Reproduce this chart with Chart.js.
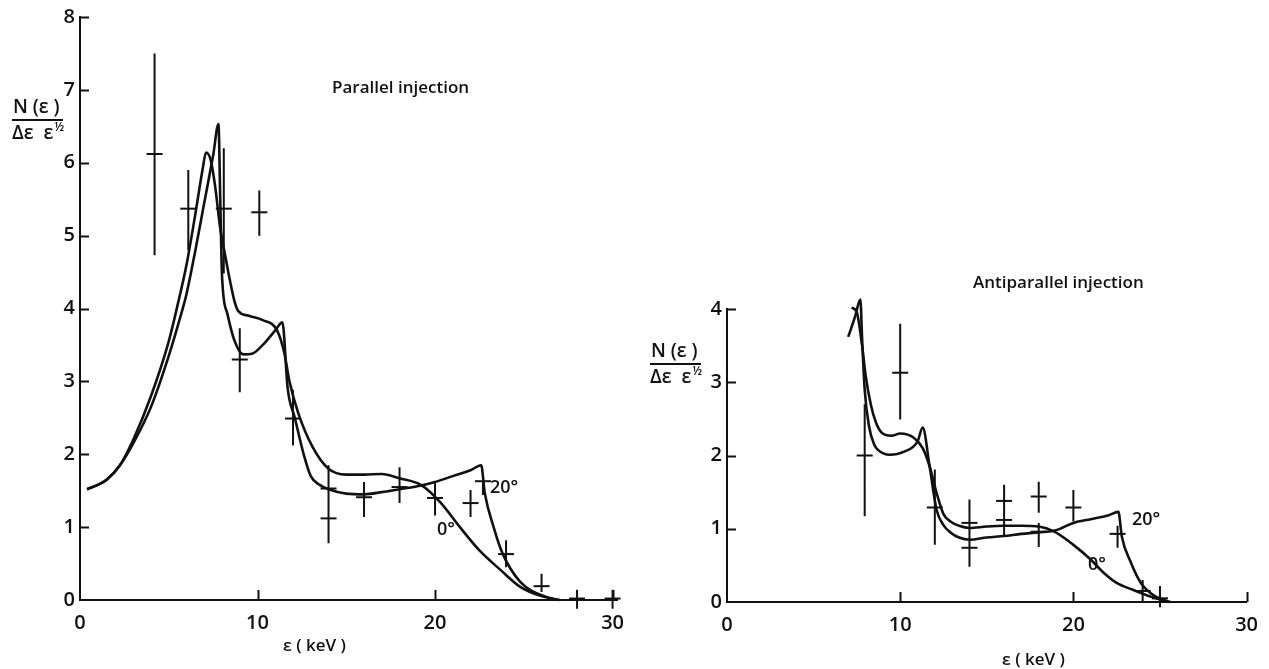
<!DOCTYPE html>
<html>
<head>
<meta charset="utf-8">
<script src="https://cdn.jsdelivr.net/npm/chart.js@4.4.1/dist/chart.umd.min.js"></script>
<style>
  html, body { margin: 0; background: #fff; }
  #wrap { position: relative; width: 1269px; height: 669px; }
  canvas { position: absolute; top: 0; }
  #left { left: 0; }
  #right { left: 640px; }
</style>
</head>
<body>
<div id="wrap">
  <canvas id="left" width="640" height="669"></canvas>
  <canvas id="right" width="629" height="669"></canvas>
</div>
<script>
// ---- parallel injection (left panel) ----
const leftE  = [4.2, 6.1, 8.1, 9.0, 10.1, 12.0, 14.0, 14.0, 16.0, 18.0, 20.0, 22.0, 22.7, 24.0, 26.0, 28.0, 30.0];
const leftN  = [6.12, 5.37, 5.37, 3.30, 5.32, 2.49, 1.53, 1.12, 1.41, 1.55, 1.40, 1.33, 1.63, 0.63, 0.19, 0.02, 0.02];
const leftHi = [7.50, 5.90, 6.20, 3.73, 5.62, 2.88, 1.85, 1.30, 1.62, 1.82, 1.62, 1.51, 1.69, 0.82, 0.36, 0.14, 0.14];
const leftLo = [4.73, 4.80, 4.48, 2.85, 5.00, 2.12, 1.30, 0.78, 1.14, 1.33, 1.16, 1.14, 1.44, 0.45, 0.11, -0.12, -0.12];

const left0E = [0.4, 1.0, 1.5, 2.25, 3.0, 4.0, 5.0, 5.5, 6.0, 6.5, 6.9, 7.1, 7.35, 7.6, 7.9, 8.2, 8.45, 8.7, 8.9, 9.5, 10.3, 11.1, 11.5, 11.8, 12.3, 13.1, 14.0, 15.0, 16.0, 17.0, 18.0, 19.2, 20.3, 21.4, 22.5, 23.7, 24.8, 25.9, 27.0];
const left0N = [1.52, 1.58, 1.65, 1.85, 2.2, 2.8, 3.55, 4.05, 4.6, 5.3, 5.9, 6.14, 6.05, 5.7, 5.1, 4.7, 4.38, 4.1, 3.97, 3.9, 3.84, 3.7, 3.4, 3.0, 2.56, 2.1, 1.8, 1.72, 1.72, 1.73, 1.67, 1.58, 1.34, 1.0, 0.68, 0.41, 0.18, 0.06, 0.0];

const left20E = [0.4, 1.0, 1.5, 2.25, 3.0, 4.0, 5.0, 5.6, 6.0, 6.5, 7.0, 7.5, 7.8, 7.9, 8.0, 8.3, 8.7, 9.2, 9.7, 10.3, 11.0, 11.4, 11.7, 12.1, 12.6, 13.0, 13.5, 14.0, 15.0, 16.0, 17.0, 18.0, 19.0, 20.0, 21.0, 22.0, 22.6, 22.8, 23.3, 23.8, 24.8, 26.3, 27.0];
const left20N = [1.52, 1.58, 1.65, 1.85, 2.15, 2.65, 3.35, 3.84, 4.2, 4.8, 5.45, 6.1, 6.53, 5.5, 4.45, 3.93, 3.56, 3.37, 3.38, 3.5, 3.7, 3.81, 2.9, 2.5, 2.0, 1.7, 1.58, 1.52, 1.46, 1.45, 1.48, 1.52, 1.56, 1.62, 1.7, 1.78, 1.85, 1.47, 1.0, 0.64, 0.25, 0.04, 0.0];

// ---- antiparallel injection (right panel) ----
const rightE  = [7.95, 10.0, 12.0, 14.0, 14.0, 16.0, 16.0, 18.0, 18.0, 20.0, 22.55, 24.0, 25.0];
const rightN  = [2.0, 3.13, 1.29, 1.08, 0.74, 1.38, 1.12, 1.44, 0.96, 1.29, 0.93, 0.15, 0.05];
const rightHi = [2.7, 3.8, 1.81, 1.4, 0.9, 1.6, 1.2, 1.64, 1.08, 1.53, 1.04, 0.3, 0.22];
const rightLo = [1.17, 2.49, 0.78, 0.9, 0.48, 1.2, 0.9, 1.22, 0.75, 1.1, 0.74, 0.0, -0.07];

const right0E = [7.2, 7.5, 7.8, 8.0, 8.3, 8.6, 8.9, 9.5, 10.0, 10.8, 11.3, 11.7, 12.1, 12.5, 12.9, 13.4, 14.0, 15.0, 16.0, 17.0, 18.0, 18.9, 20.0, 21.0, 21.7, 22.5, 23.5, 24.5, 25.5];
const right0N = [4.02, 3.95, 3.5, 3.1, 2.7, 2.45, 2.32, 2.27, 2.3, 2.24, 2.1, 1.85, 1.49, 1.2, 1.1, 1.04, 1.01, 1.03, 1.04, 1.04, 1.03, 0.96, 0.78, 0.58, 0.41, 0.26, 0.16, 0.07, 0.0];

const right20E = [7.0, 7.4, 7.7, 7.8, 7.95, 8.2, 8.5, 8.7, 9.4, 10.2, 11.0, 11.3, 11.7, 12.1, 12.5, 12.9, 13.4, 14.0, 15.0, 16.0, 17.0, 18.0, 19.0, 20.0, 21.0, 22.0, 22.6, 22.8, 23.3, 23.9, 24.7, 25.6];
const right20N = [3.62, 3.9, 4.13, 3.6, 2.9, 2.4, 2.15, 2.08, 2.01, 2.05, 2.19, 2.38, 1.85, 1.26, 1.05, 0.95, 0.88, 0.85, 0.88, 0.9, 0.93, 0.95, 0.98, 1.08, 1.13, 1.18, 1.23, 0.89, 0.55, 0.26, 0.08, 0.0];

// tick labels
const xTicks = [0, 10, 20, 30];
const leftYTicks = [0, 1, 2, 3, 4, 5, 6, 7, 8];
const rightYTicks = [0, 1, 2, 3, 4];

const FONT = "'Open Sans', 'DejaVu Sans', sans-serif";

function pts(xs, ys) {
  return xs.map((x, i) => ({ x: x, y: ys[i] }));
}

// vertical error bars as one broken line
function bars(xs, lo, hi) {
  const out = [];
  xs.forEach((x, i) => {
    out.push({ x: x, y: lo[i] }, { x: x, y: hi[i] }, { x: x, y: null });
  });
  return out;
}

// inward tick marks, like the original drawing
const inwardTicks = {
  id: "inwardTicks",
  afterDraw(chart) {
    const ctx = chart.ctx;
    const { x, y } = chart.scales;
    const a = chart.chartArea;
    ctx.save();
    ctx.strokeStyle = "#111";
    ctx.lineWidth = 2;
    ctx.beginPath();
    y.ticks.forEach(t => {
      if (t.value === 0) return;
      const py = Math.round(y.getPixelForValue(t.value)) + 0.5;
      ctx.moveTo(a.left, py);
      ctx.lineTo(a.left + 9, py);
    });
    x.ticks.forEach(t => {
      if (t.value === 0) return;
      const px = Math.round(x.getPixelForValue(t.value)) + 0.5;
      ctx.moveTo(px, a.bottom);
      ctx.lineTo(px, a.bottom - 10);
    });
    ctx.stroke();
    ctx.restore();
  }
};

// titles, axis labels and curve names
const figText = {
  id: "figText",
  afterDraw(chart, args, o) {
    const ctx = chart.ctx;
    ctx.save();
    ctx.fillStyle = "#111";
    ctx.textBaseline = "middle";
    ctx.textAlign = "left";
    ctx.font = "600 17px " + FONT;
    ctx.fillText(o.title[0], o.title[1], o.title[2]);
    ctx.fillText("ε ( keV )", o.xlab[0], o.xlab[1]);
    ctx.font = "600 18px " + FONT;
    o.notes.forEach(n => ctx.fillText(n[0], n[1], n[2]));

    // y label as a fraction
    const fx = o.frac[0], fy = o.frac[1];
    ctx.font = "600 19px " + FONT;
    ctx.fillText("N (ε )", fx + 1, fy);
    ctx.lineWidth = 2;
    ctx.strokeStyle = "#111";
    ctx.beginPath();
    ctx.moveTo(fx, fy + 12);
    ctx.lineTo(fx + 51, fy + 12);
    ctx.stroke();
    ctx.fillText("Δε  ε", fx, fy + 26);
    const w = ctx.measureText("Δε  ε").width;
    ctx.font = "600 12px " + FONT;
    ctx.fillText("½", fx + w + 1, fy + 20);
    ctx.restore();
  }
};

function makeChart(id, cfg) {
  const tickFont = { family: FONT, size: 20, weight: "600" };
  return new Chart(document.getElementById(id), {
    type: "line",
    data: {
      datasets: [
        { data: pts(cfg.c0E, cfg.c0N), borderColor: "#111", borderWidth: 2.6, pointRadius: 0,
          cubicInterpolationMode: "monotone", clip: false },
        { data: pts(cfg.c20E, cfg.c20N), borderColor: "#111", borderWidth: 2.6, pointRadius: 0,
          cubicInterpolationMode: "monotone", clip: false },
        { data: bars(cfg.e, cfg.lo, cfg.hi), borderColor: "#111", borderWidth: 2, pointRadius: 0,
          spanGaps: false, clip: false },
        { data: pts(cfg.e, cfg.n), showLine: false, pointStyle: "line", pointRadius: 8,
          pointBorderWidth: 2, pointBorderColor: "#111", clip: false }
      ]
    },
    options: {
      responsive: false,
      animation: false,
      devicePixelRatio: 1,
      layout: { autoPadding: false, padding: cfg.pad },
      plugins: { legend: { display: false }, tooltip: { enabled: false }, figText: cfg.text },
      scales: {
        x: {
          type: "linear", min: 0, max: cfg.xMax,
          afterBuildTicks: s => { s.ticks = xTicks.map(v => ({ value: v })); },
          afterFit: s => { s.height = cfg.xH; },
          grid: { display: false, drawTicks: false },
          border: { display: true, color: "#111", width: 2 },
          ticks: { color: "#111", font: tickFont, padding: 11, maxRotation: 0 }
        },
        y: {
          type: "linear", min: 0, max: cfg.yMax,
          afterBuildTicks: s => { s.ticks = cfg.yTicks.map(v => ({ value: v })); },
          afterFit: s => { s.width = cfg.yW; },
          grid: { display: false, drawTicks: false },
          border: { display: true, color: "#111", width: 2 },
          ticks: { color: "#111", font: tickFont, padding: 5 }
        }
      }
    },
    plugins: [inwardTicks, figText]
  });
}

makeChart("left", {
  e: leftE, n: leftN, lo: leftLo, hi: leftHi,
  c0E: left0E, c0N: left0N, c20E: left20E, c20N: left20N,
  xMax: 30.25, yMax: 8, yTicks: leftYTicks,
  pad: { left: 30, right: 23, top: 15, bottom: 0 }, yW: 50, xH: 69,
  text: {
    title: ["Parallel injection", 332, 88],
    xlab: [283, 646],
    notes: [["20°", 490, 488], ["0°", 437, 530]],
    frac: [12, 108]
  }
});

makeChart("right", {
  e: rightE, n: rightN, lo: rightLo, hi: rightHi,
  c0E: right0E, c0N: right0N, c20E: right20E, c20N: right20N,
  xMax: 30, yMax: 4, yTicks: rightYTicks,
  pad: { left: 27, right: 15, top: 309, bottom: 0 }, yW: 60, xH: 67,
  text: {
    title: ["Antiparallel injection", 333, 283],
    xlab: [362, 660],
    notes: [["20°", 492, 520], ["0°", 448, 565]],
    frac: [10, 352]
  }
});
</script>
</body>
</html>
